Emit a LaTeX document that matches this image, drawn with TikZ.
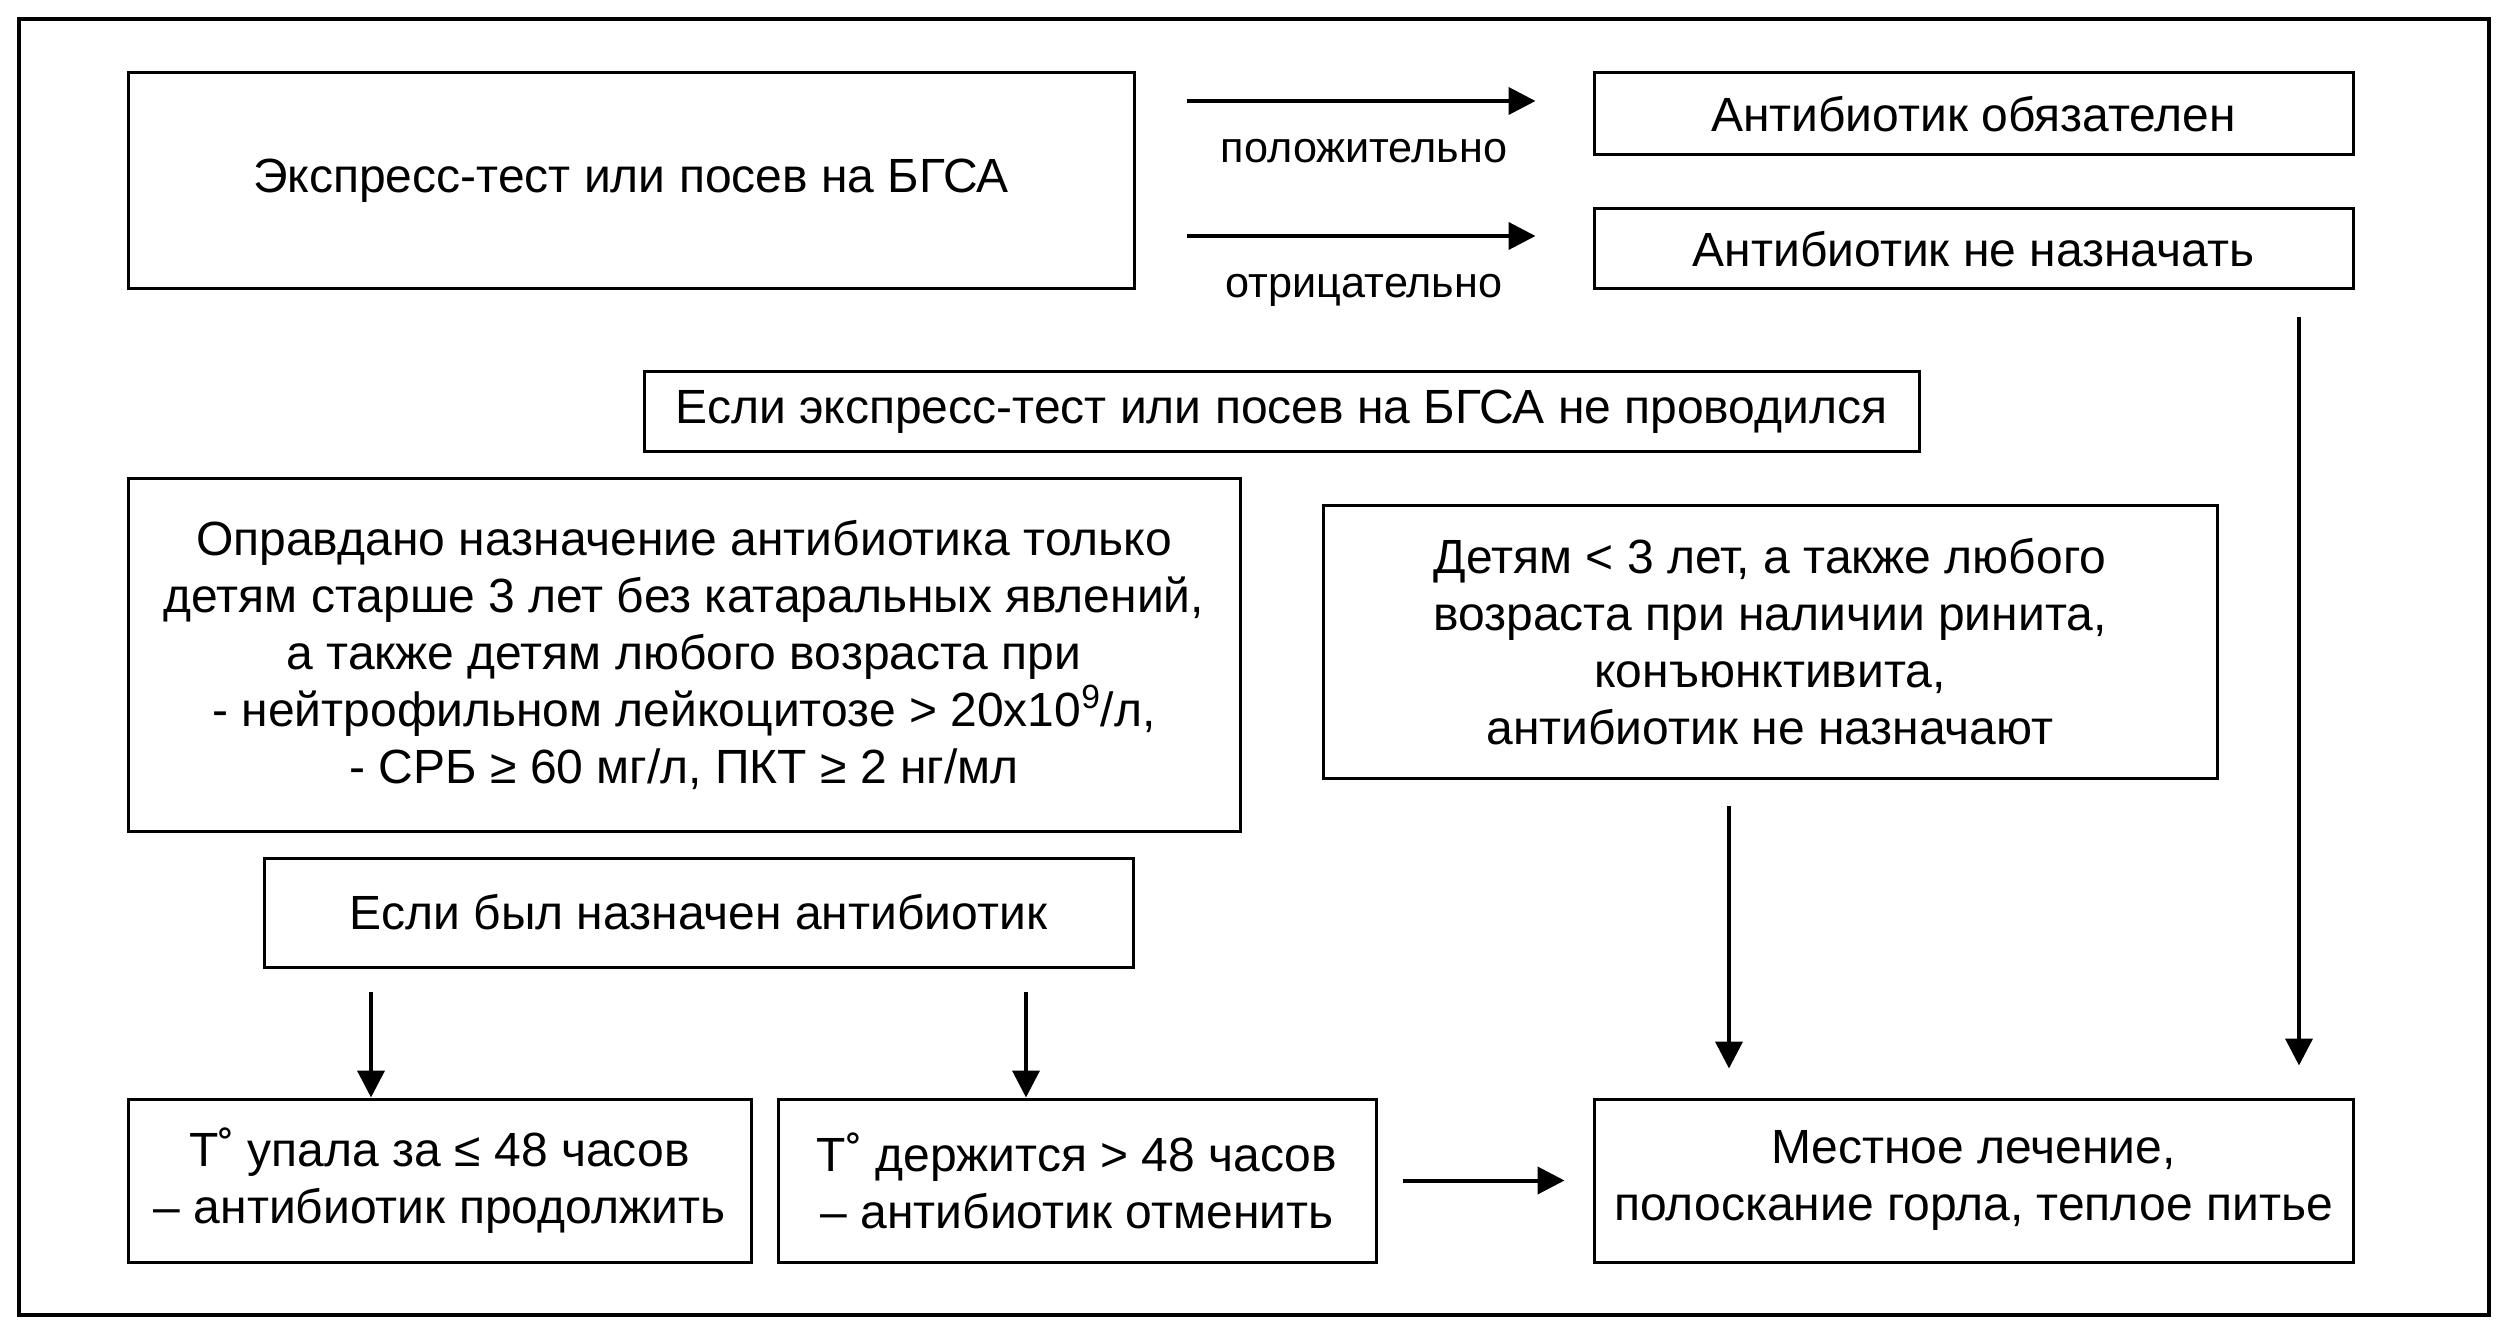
\documentclass[tikz,border=0pt]{standalone}
\usepackage{fontspec}
\setmainfont{Liberation Sans}
\usetikzlibrary{arrows.meta,calc}

\begin{document}
\begin{tikzpicture}[x=0.5pt, y=-0.5pt,
    block/.style = {draw, line width=1.5pt, inner sep=0pt, align=center,
                    font=\fontsize{24}{28.5}\selectfont},
    link/.style  = {line width=2pt, -{Triangle[length=13.5pt,width=13.5pt]}},
    note/.style  = {anchor=base, font=\fontsize{21.6}{25}\selectfont}]
            \useasboundingbox (0,0) rectangle (2505,1336);
            \draw [line width=1.6pt] (19,19) rectangle (2489,1315);

            \node [block, minimum width=503pt, minimum height=108pt] (test) at (631,181)
                {Экспресс-тест или посев на БГСА};
            \node [block, minimum width=379.5pt, minimum height=41pt] (must) at (1973.5,114)
                {Антибиотик обязателен};
            \node [block, minimum width=379.5pt, minimum height=40pt] (nomust) at (1973.5,249)
                {Антибиотик не назначать};
            \node [block, minimum width=637.5pt, minimum height=40pt] (notest) at (1281.5,412)
                {Если экспресс-тест или посев на БГСА не проводился};
            \node [block, minimum width=556pt, minimum height=176pt] (older) at (684,655)
                {Оправдано назначение антибиотика только\\
                 детям старше 3 лет без катаральных явлений,\\
                 а также детям любого возраста при\\
                 - нейтрофильном лейкоцитозе > 20х10\textsuperscript{9}/л,\\
                 - СРБ ≥ 60 мг/л, ПКТ ≥ 2 нг/мл};
            \node [block, minimum width=447pt, minimum height=136pt] (younger) at (1770,642)
                {Детям < 3 лет, а также любого\\
                 возраста при наличии ринита,\\
                 конъюнктивита,\\
                 антибиотик не назначают};
            \node [block, minimum width=434.5pt, minimum height=54.5pt] (given) at (698.5,912.5)
                {Если был назначен антибиотик};
            \node [block, minimum width=311.5pt, minimum height=81.5pt] (fell) at (439.5,1180.5)
                {T˚ упала за ≤ 48 часов\\– антибиотик продолжить};
            \node [block, minimum width=299pt, minimum height=81.5pt] (kept) at (1077,1180.5)
                {T˚ держится > 48 часов\\– антибиотик отменить};
            \node [block, minimum width=379.5pt, minimum height=81.5pt] (local) at (1973.5,1180.5)
                {Местное лечение,\\полоскание горла, теплое питье};

            \coordinate (pos) at ($(test.east |- must.west)+(0,-13)$);
            \coordinate (neg) at ($(test.east |- nomust.west)+(0,-13)$);
            \coordinate (fellin) at ($(fell.north)+(-68.5,0)$);
            \coordinate (keptin) at ($(kept.north)+(-51,0)$);
            \coordinate (younger out) at ($(younger.south)+(-41,0)$);
            \coordinate (nomust out) at ($(nomust.south)+(325.5,0)$);

            \draw [link, shorten <=25.5pt, shorten >=28.5pt] (pos) -- (pos -| must.west)
                node [note, midway, yshift=-31pt] {положительно};
            \draw [link, shorten <=25.5pt, shorten >=28.5pt] (neg) -- (neg -| nomust.west)
                node [note, midway, yshift=-31pt] {отрицательно};
            \draw [link, shorten <=11.5pt] (fellin |- given.south) -- (fellin);
            \draw [link, shorten <=11.5pt] (keptin |- given.south) -- (keptin);
            \draw [link, shorten <=12.5pt, shorten >=14pt] (kept.east) -- (kept.east -| local.west);
            \draw [link, shorten <=13pt, shorten >=14.5pt] (younger out) -- (younger out |- local.north);
            \draw [link, shorten <=13.5pt, shorten >=16pt] (nomust out) -- (nomust out |- local.north);
        \end{tikzpicture}
\end{document}
